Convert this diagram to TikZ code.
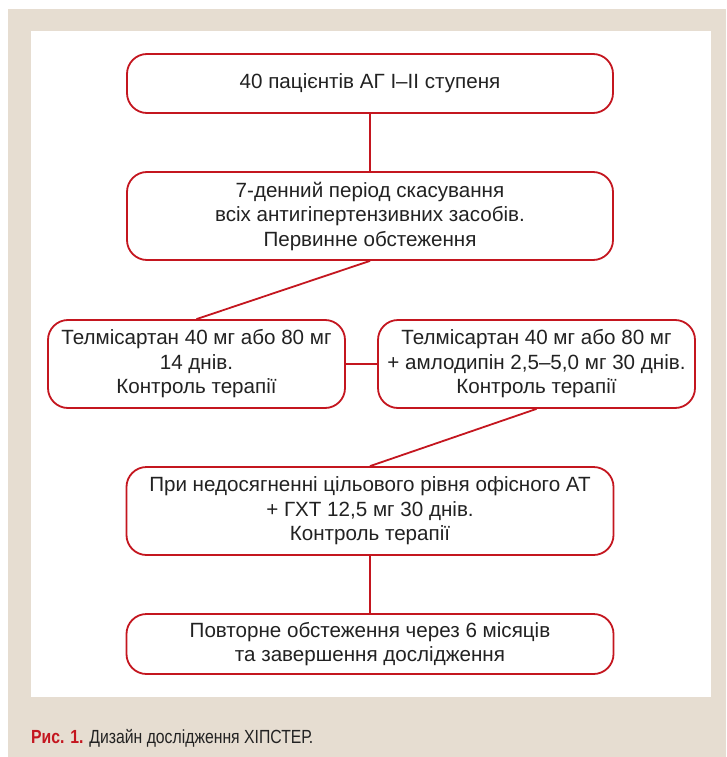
\documentclass[tikz,border=0pt]{standalone}
\usepackage{fontspec}
\setmainfont{Liberation Sans}
\newfontfamily\capfont[FakeStretch=0.83]{Liberation Sans}
\definecolor{beige}{HTML}{E6DDD1}
\definecolor{boxred}{HTML}{C4161F}
\definecolor{txt}{HTML}{222222}
\tikzset{
  flowbox/.style={draw=boxred, line width=1.8pt, rounded corners=20pt, fill=white,
    align=center, text=txt, font=\fontsize{20.6}{24.5}\selectfont, inner sep=0pt},
  link/.style={draw=boxred, line width=1.8pt}
}
\begin{document}
\begin{tikzpicture}[x=1pt,y=-1pt]
\useasboundingbox (0,0) rectangle (726,757);
\fill[white] (0,0) rectangle (726,757);
\fill[beige] (8,9) rectangle (726,757);
\fill[white] (31,31) rectangle (711,697);
\node[flowbox, minimum width=486pt, minimum height=59pt] (b1) at (370,83.5) {40 пацієнтів АГ І–ІІ ступеня};
\node[flowbox, minimum width=486pt, minimum height=88pt] (b2) at (370,216) {7-денний період скасування\\всіх антигіпертензивних засобів.\\Первинне обстеження};
\node[flowbox, minimum width=297pt, minimum height=88pt] (b3) at (196.5,364) {Телмісартан 40 мг або 80 мг\\14 днів.\\Контроль терапії};
\node[flowbox, minimum width=317pt, minimum height=88pt] (b4) at (536.5,364) {Телмісартан 40 мг або 80 мг\\+ амлодипін 2,5–5,0 мг 30 днів.\\Контроль терапії};
\node[flowbox, minimum width=487pt, minimum height=88pt] (b5) at (370,511) {При недосягненні цільового рівня офісного АТ\\+ ГХТ 12,5 мг 30 днів.\\Контроль терапії};
\node[flowbox, minimum width=487pt, minimum height=60pt] (b6) at (370,644) {Повторне обстеження через 6 місяців\\та завершення дослідження};
\draw[link] (b1.south) -- (b2.north);
\draw[link] (b2.south) -- (b3.north);
\draw[link] (b3.east) -- (b4.west);
\draw[link] (b4.south) -- (b5.north);
\draw[link] (b5.south) -- (b6.north);
\node[anchor=base west, inner sep=0pt, font=\capfont\fontsize{19}{22}\selectfont, text=txt] (cap) at (31,743) {\textcolor{boxred}{\textbf{Рис. 1.}} Дизайн дослідження ХІПСТЕР.};
\end{tikzpicture}
\end{document}
